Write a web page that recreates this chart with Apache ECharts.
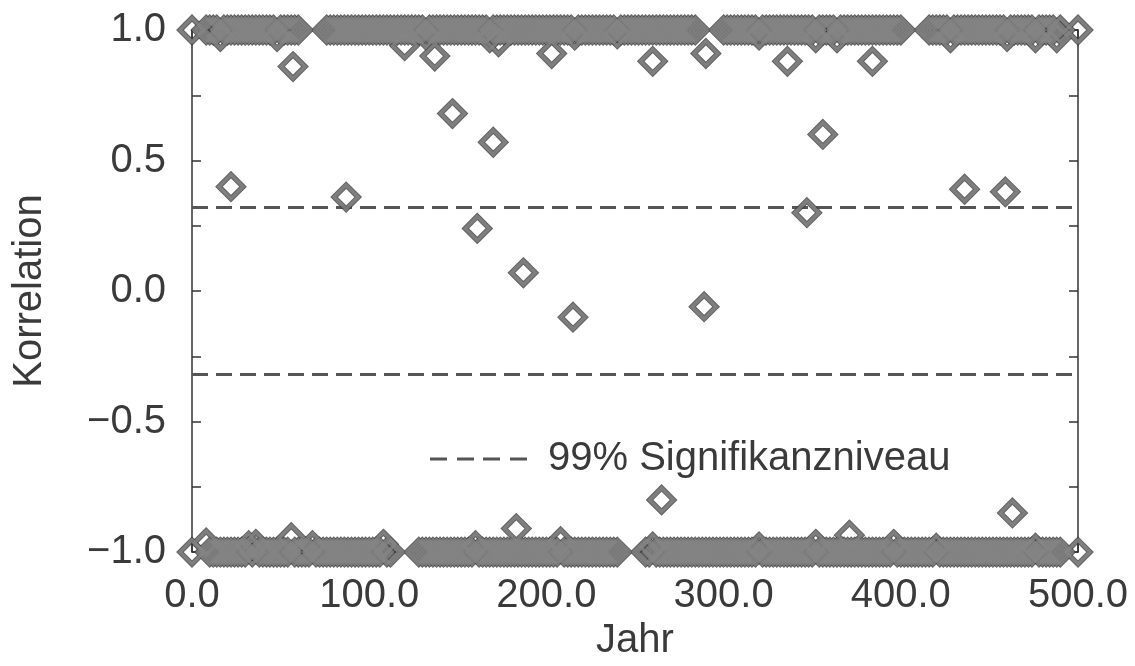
<!DOCTYPE html>
<html>
<head>
<meta charset="utf-8">
<script src="https://cdn.jsdelivr.net/npm/echarts@6/dist/echarts.min.js"></script>
<style>
  html, body { margin: 0; padding: 0; background: #fff; }
  #chart { width: 1135px; height: 666px; }
</style>
</head>
<body>
<div id="chart"></div>
<script>
// Correlation values near +1 (upper band)
const upperYears = [
  0, 8, 10, 12, 14, 16, 18, 20, 22, 24, 26, 28, 30, 32, 34, 36, 38, 40, 42, 44,
  46, 48, 50, 52, 54, 56, 58, 60, 76, 78, 80, 82, 84, 86, 88, 90, 92, 94, 96, 98,
  100, 102, 104, 106, 108, 110, 112, 114, 116, 118, 120, 122, 124, 126, 128, 130, 132, 134, 136, 138,
  140, 142, 144, 146, 148, 150, 152, 154, 156, 158, 160, 162, 164, 166, 168, 170, 172, 174, 176, 178,
  180, 182, 184, 186, 188, 190, 192, 194, 196, 198, 200, 202, 204, 206, 208, 210, 212, 214, 216, 218,
  220, 222, 224, 226, 228, 230, 232, 234, 236, 238, 240, 242, 244, 246, 248, 250, 252, 254, 256, 258,
  260, 262, 264, 266, 268, 270, 272, 274, 276, 278, 280, 282, 284, 300, 302, 304, 306, 308, 310, 312,
  314, 316, 318, 320, 322, 324, 326, 328, 330, 332, 334, 336, 338, 340, 342, 344, 346, 348, 350, 352,
  354, 356, 358, 360, 362, 364, 366, 368, 370, 372, 374, 376, 378, 380, 382, 384, 386, 388, 390, 392,
  394, 396, 398, 400, 416, 418, 420, 422, 424, 426, 428, 430, 432, 434, 436, 438, 440, 442, 444, 446,
  448, 450, 452, 454, 456, 458, 460, 462, 464, 466, 468, 470, 472, 474, 476, 478, 480, 482, 484, 486,
  488, 490, 500
];
const upperValues = [
  1, 1, 1, 1, 1, 0.975, 1, 1, 1, 1, 1, 1, 1, 1, 1, 1, 1, 1, 1, 1,
  1, 0.975, 1, 1, 1, 1, 1, 1, 1, 1, 1, 1, 1, 1, 1, 1, 1, 1, 1, 1,
  1, 1, 1, 1, 1, 1, 1, 1, 1, 1, 1, 1, 1, 1, 1, 1, 0.98, 1, 1, 1,
  1, 1, 1, 1, 1, 1, 1, 1, 1, 1, 1, 1, 1, 1, 0.97, 1, 1, 1, 1, 1,
  1, 1, 1, 1, 1, 1, 1, 1, 1, 1, 1, 1, 1, 1, 1, 1, 1, 1, 0.98, 1,
  1, 1, 1, 1, 1, 1, 1, 1, 1, 1, 0.985, 1, 1, 1, 1, 1, 1, 1, 1, 1,
  1, 1, 1, 1, 1, 1, 1, 1, 1, 1, 1, 1, 1, 1, 1, 1, 1, 1, 1, 1,
  1, 1, 1, 0.98, 1, 1, 1, 1, 1, 1, 1, 1, 1, 1, 1, 1, 1, 1, 1, 0.97,
  1, 1, 1, 1, 1, 0.97, 1, 1, 1, 1, 1, 1, 1, 1, 1, 1, 1, 1, 1, 1,
  1, 1, 1, 1, 1, 1, 1, 1, 1, 1, 0.97, 1, 1, 1, 1, 1, 1, 1, 1, 1,
  1, 1, 1, 1, 1, 1, 0.975, 1, 1, 1, 1, 1, 1, 1, 0.97, 1, 1, 1, 1, 1,
  0.97, 1, 1
];

// Correlation values near -1 (lower band)
const lowerYears = [
  0, 8, 10, 12, 14, 16, 18, 20, 22, 24, 26, 28, 30, 32, 34, 36, 38, 40, 42, 44,
  46, 48, 50, 52, 54, 56, 58, 60, 62, 64, 66, 68, 70, 72, 74, 76, 78, 80, 82, 84,
  86, 88, 90, 92, 94, 96, 98, 100, 102, 104, 106, 108, 110, 112, 128, 130, 132, 134, 136, 138,
  140, 142, 144, 146, 148, 150, 152, 154, 156, 158, 160, 162, 164, 166, 168, 170, 172, 174, 176, 178,
  180, 182, 184, 186, 188, 190, 192, 194, 196, 198, 200, 202, 204, 206, 208, 210, 212, 214, 216, 218,
  220, 222, 224, 226, 228, 230, 232, 234, 236, 238, 240, 256, 258, 260, 262, 264, 266, 268, 270, 272,
  274, 276, 278, 280, 282, 284, 286, 288, 290, 292, 294, 296, 298, 300, 302, 304, 306, 308, 310, 312,
  314, 316, 318, 320, 322, 324, 326, 328, 330, 332, 334, 336, 338, 340, 342, 344, 346, 348, 350, 352,
  354, 356, 358, 360, 362, 364, 366, 368, 370, 372, 374, 376, 378, 380, 382, 384, 386, 388, 390, 392,
  394, 396, 398, 400, 402, 404, 406, 408, 410, 412, 414, 416, 418, 420, 422, 424, 426, 428, 430, 432,
  434, 436, 438, 440, 442, 444, 446, 448, 450, 452, 454, 456, 458, 460, 462, 464, 466, 468, 470, 472,
  474, 476, 478, 480, 482, 484, 486, 488, 490, 500
];
const lowerValues = [
  -1, -0.965, -1, -1, -1, -1, -1, -1, -1, -1, -1, -1, -1, -0.975, -1, -0.97, -1, -1, -1, -1,
  -1, -1, -1, -1, -1, -0.945, -1, -1, -1, -1, -1, -0.975, -1, -1, -1, -1, -1, -1, -1, -1,
  -1, -1, -1, -1, -1, -1, -1, -1, -1, -1, -1, -0.97, -1, -1, -1, -1, -1, -1, -1, -1,
  -1, -1, -1, -1, -1, -1, -1, -1, -1, -1, -0.975, -1, -1, -1, -1, -1, -1, -1, -1, -1,
  -1, -1, -1, -1, -1, -1, -1, -1, -1, -1, -1, -1, -1, -1, -0.96, -1, -1, -1, -1, -1,
  -1, -1, -1, -1, -1, -1, -1, -1, -1, -1, -1, -1, -1, -0.98, -1, -1, -1, -1, -1, -1,
  -1, -1, -1, -1, -1, -1, -1, -1, -1, -1, -1, -1, -1, -1, -1, -1, -1, -1, -1, -1,
  -1, -1, -1, -0.98, -1, -1, -1, -1, -1, -1, -1, -1, -1, -1, -1, -1, -1, -1, -1, -0.97,
  -1, -1, -1, -1, -1, -1, -1, -1, -1, -1, -1, -1, -1, -1, -1, -1, -1, -1, -1, -1,
  -1, -0.97, -1, -1, -1, -1, -1, -1, -1, -1, -1, -1, -1, -0.985, -1, -1, -1, -1, -1, -1,
  -1, -1, -1, -1, -1, -1, -1, -1, -1, -1, -1, -1, -1, -1, -1, -1, -1, -1, -1, -1,
  -1, -0.985, -1, -1, -1, -1, -1, -1, -1, -1
];

// Intermediate correlation values
const middleYears = [
  22, 57, 87, 120, 137, 147, 161, 170, 187, 203, 215, 260, 290,
  289, 265, 183, 336, 347, 356, 384, 436, 459, 463, 173, 371
];
const middleValues = [
  0.40, 0.86, 0.36, 0.94, 0.90, 0.68, 0.24, 0.57, 0.07, 0.91, -0.10, 0.88, 0.91,
  -0.06, -0.80, -0.91, 0.88, 0.30, 0.60, 0.88, 0.39, 0.38, -0.85, 0.955, -0.935
];

// 99 % significance thresholds
const significanceLevels = [0.32, -0.32];
const yearRange = [0, 500];

const xTickLabels = ['0.0', '100.0', '200.0', '300.0', '400.0', '500.0'];
const yTickLabels = ['\u22121.0', '\u22120.5', '0.0', '0.5', '1.0'];

const pairs = (xs, ys) => xs.map((x, i) => [x, ys[i]]);
const points = pairs(upperYears, upperValues)
  .concat(pairs(lowerYears, lowerValues))
  .concat(pairs(middleYears, middleValues));

const FONT = 'Liberation Sans, Arial, Helvetica, sans-serif';
const FS = 40;
const TEXT = '#3a3a3a';
const AXIS = '#333';
const DASH = '#555';
const legendName = '99% Signifikanzniveau';

const tickStyle = { show: true, inside: true, length: 9, lineStyle: { color: AXIS, width: 1.5 } };
const lineStyle = { show: true, onZero: false, lineStyle: { color: AXIS, width: 1.5 } };
const minorStyle = { show: true, splitNumber: 2, length: 9, lineStyle: { color: AXIS, width: 1.5 } };

const chart = echarts.init(document.getElementById('chart'), null, { renderer: 'canvas' });

chart.setOption({
  animation: false,
  backgroundColor: '#fff',
  grid: { left: 192, right: 57, top: 30, bottom: 105 },
  legend: {
    show: true,
    data: [{
      name: legendName,
      icon: 'path://M0 0H17V3H0Z M27 0H44V3H27Z M53 0H70V3H53Z M80 0H97V3H80Z'
    }],
    left: 425,
    top: 434,
    itemWidth: 97,
    itemHeight: 3,
    itemStyle: { color: DASH },
    textStyle: { fontFamily: FONT, fontSize: FS, color: TEXT, padding: [0, 0, 0, 16] }
  },
  xAxis: [
    {
      type: 'value', position: 'bottom', min: yearRange[0], max: yearRange[1], interval: 100,
      name: 'Jahr', nameLocation: 'middle', nameGap: 60,
      nameTextStyle: { fontFamily: FONT, fontSize: FS, color: TEXT },
      axisLine: lineStyle, axisTick: tickStyle, splitLine: { show: false },
      axisLabel: {
        margin: 24, fontFamily: FONT, fontSize: FS, color: TEXT,
        formatter: (v) => xTickLabels[Math.round(v / 100)]
      }
    },
    {
      type: 'value', position: 'top', min: yearRange[0], max: yearRange[1], interval: 100,
      axisLine: lineStyle, axisTick: tickStyle, splitLine: { show: false },
      axisLabel: { show: false }
    }
  ],
  yAxis: [
    {
      type: 'value', position: 'left', min: -1, max: 1, interval: 0.5,
      name: 'Korrelation', nameLocation: 'middle', nameGap: 142,
      nameTextStyle: { fontFamily: FONT, fontSize: FS, color: TEXT },
      axisLine: lineStyle, axisTick: tickStyle, minorTick: minorStyle,
      splitLine: { show: false },
      axisLabel: {
        margin: 26, fontFamily: FONT, fontSize: FS, color: TEXT,
        formatter: (v) => yTickLabels[Math.round((v + 1) / 0.5)]
      }
    },
    {
      type: 'value', position: 'right', min: -1, max: 1, interval: 0.5,
      axisLine: lineStyle, axisTick: tickStyle, minorTick: minorStyle,
      splitLine: { show: false },
      axisLabel: { show: false }
    }
  ],
  series: [
    {
      name: legendName, type: 'line', symbol: 'none', silent: true,
      itemStyle: { color: DASH },
      lineStyle: { color: DASH, width: 3, type: [16, 8] },
      data: [[yearRange[0], significanceLevels[0]], [yearRange[1], significanceLevels[0]]],
      z: 1
    },
    {
      name: legendName, type: 'line', symbol: 'none', silent: true,
      itemStyle: { color: DASH },
      lineStyle: { color: DASH, width: 3, type: [16, 8] },
      data: [[yearRange[0], significanceLevels[1]], [yearRange[1], significanceLevels[1]]],
      z: 1
    },
    {
      // dark rim of each diamond
      name: 'Korrelation-Rand', type: 'scatter', clip: false, silent: true,
      symbol: 'diamond', symbolSize: 24,
      itemStyle: { color: 'rgba(0,0,0,0)', borderColor: '#3c3c3c', borderWidth: 5.5 },
      data: points, z: 3
    },
    {
      // grey body of each diamond outline
      name: 'Korrelation', type: 'scatter', clip: false, silent: true,
      symbol: 'diamond', symbolSize: 24,
      itemStyle: { color: 'rgba(0,0,0,0)', borderColor: '#858585', borderWidth: 3.5 },
      data: points, z: 4
    }
  ]
});
</script>
</body>
</html>
